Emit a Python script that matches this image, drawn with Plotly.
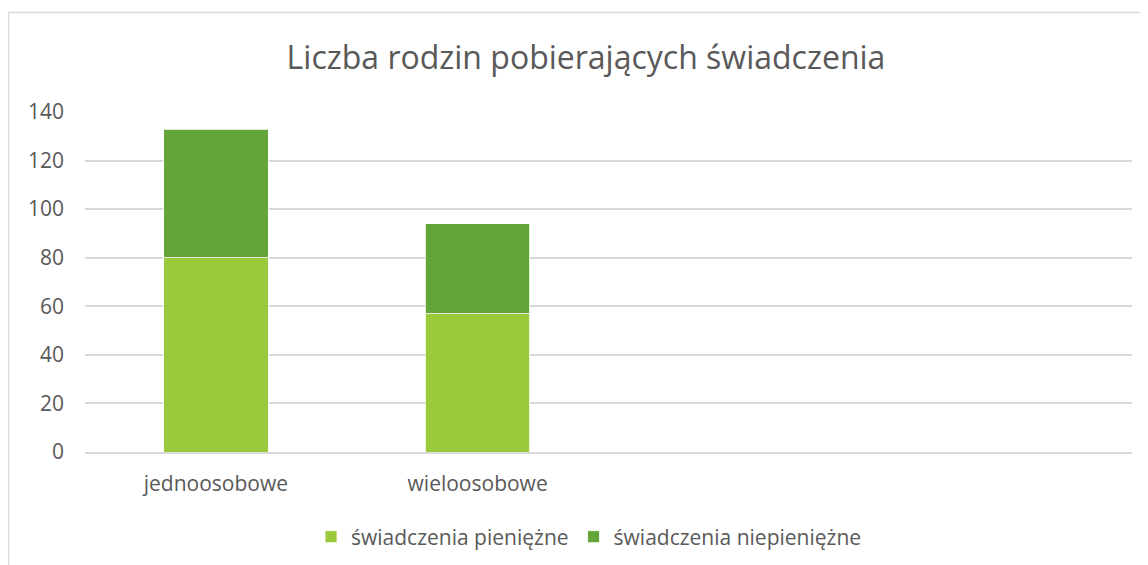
import plotly.graph_objects as go

categories = ["jednoosobowe", "wieloosobowe", " ", "  "]
pieniezne = [80, 57, None, None]
niepieniezne = [53, 37, None, None]
series_names = ["świadczenia pieniężne", "świadczenia niepieniężne"]
y_ticks = [0, 20, 40, 60, 80, 100, 120, 140]
title_text = "Liczba rodzin pobierających świadczenia"

FONT = "Open Sans"
TXT = "#595959"

fig = go.Figure()
fig.add_trace(go.Bar(x=categories, y=pieniezne, name=series_names[0],
                     marker=dict(color="#9ACA3C", line=dict(color="#ffffff", width=0.8))))
fig.add_trace(go.Bar(x=categories, y=niepieniezne, name=series_names[1],
                     marker=dict(color="#64A539", line=dict(color="#ffffff", width=0.8))))

fig.update_layout(
    width=1148, height=565,
    barmode="stack", bargap=0.6,
    paper_bgcolor="white", plot_bgcolor="white",
    margin=dict(l=77, r=24, t=104, b=121),
    font=dict(family=FONT, color=TXT, size=21),
    title=dict(text=title_text, x=0.4785, xref="paper", xanchor="center",
               y=1 - 50 / 565, yref="container", yanchor="middle",
               font=dict(family=FONT, size=32, color=TXT)),
    showlegend=True,
    legend=dict(orientation="h", x=0.4814, xref="paper", xanchor="center",
                y=-0.25, yanchor="middle", font=dict(size=21, color=TXT),
                traceorder="normal", itemwidth=30),
    xaxis=dict(showgrid=False, showline=True, linecolor="#d9d9d9", linewidth=1.5,
               ticks="", ticklabelstandoff=12, tickfont=dict(size=21, color=TXT)),
    yaxis=dict(range=[0, 140], tickvals=y_ticks, showgrid=True, gridcolor="#d9d9d9",
               gridwidth=1.5, zeroline=False, showline=False, ticks="",
               ticklabelstandoff=20, tickfont=dict(size=21, color=TXT)),
)

fig.add_shape(type="rect", xref="paper", yref="paper",
              x0=(0.5 - 77) / 1047, x1=1.3, y0=-0.6, y1=(444 - 4.5) / 340,
              line=dict(color="#d9d9d9", width=1.5), fillcolor="rgba(0,0,0,0)", layer="below")

fig.write_html("out.html")
